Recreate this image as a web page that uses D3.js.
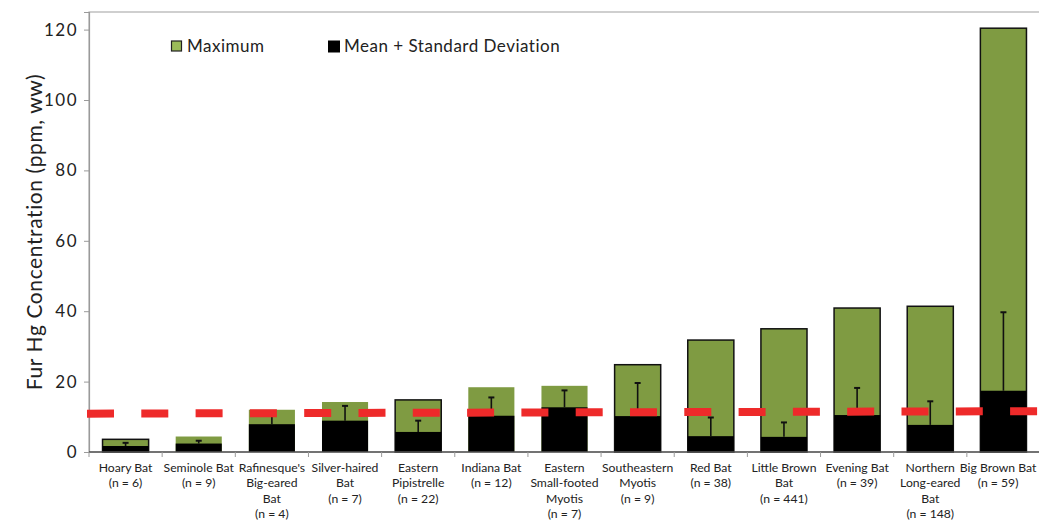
<!DOCTYPE html>
<html>
<head>
<meta charset="utf-8">
<script src="https://cdn.jsdelivr.net/npm/d3@7"></script>
<style>
  html, body { margin: 0; padding: 0; background: #fff; }
  svg { display: block; font-family: Lato, "Open Sans", sans-serif; }
</style>
</head>
<body>
<svg id="chart" width="1039" height="521"></svg>
<script>
// ---- data ----
const categories = ["Hoary Bat", "Seminole Bat", "Rafinesque's Big-eared Bat", "Silver-haired Bat",
  "Eastern Pipistrelle", "Indiana Bat", "Eastern Small-footed Myotis", "Southeastern Myotis",
  "Red Bat", "Little Brown Bat", "Evening Bat", "Northern Long-eared Bat", "Big Brown Bat"];
const labelLines = [
  ["Hoary Bat", "(n = 6)"],
  ["Seminole Bat", "(n = 9)"],
  ["Rafinesque's", "Big-eared", "Bat", "(n = 4)"],
  ["Silver-haired", "Bat", "(n = 7)"],
  ["Eastern", "Pipistrelle", "(n = 22)"],
  ["Indiana Bat", "(n = 12)"],
  ["Eastern", "Small-footed", "Myotis", "(n = 7)"],
  ["Southeastern", "Myotis", "(n = 9)"],
  ["Red Bat", "(n = 38)"],
  ["Little Brown", "Bat", "(n = 441)"],
  ["Evening Bat", "(n = 39)"],
  ["Northern", "Long-eared", "Bat", "(n = 148)"],
  ["Big Brown Bat", "(n = 59)"]
];
const maximum = [3.6, 4.4, 12.0, 14.2, 14.8, 18.4, 18.8, 24.8, 31.8, 35.0, 40.9, 41.4, 120.4];
const mean    = [1.7, 2.4, 7.9, 8.9, 5.7, 10.3, 12.7, 10.2, 4.5, 4.3, 10.5, 7.7, 17.4];
const sd      = [0.9, 0.8, 3.4, 4.2, 3.2, 5.2, 4.8, 9.4, 5.3, 4.1, 7.7, 6.7, 22.3];
const thresholdStart = 10.9;
const thresholdEnd = 11.6;
const yTicks = [0, 20, 40, 60, 80, 100, 120];
const legendLabels = ["Maximum", "Mean + Standard Deviation"];
// style: which maximum bars carry a dark outline
const outlinedMax = [true, false, false, false, true, false, false, true, true, true, true, true, true];

// ---- layout ----
const svg = d3.select("#chart");
const W = 1039;
const pL = 89, pR = 1040, pT = 12, pB = 452;
const green = "#7F9B42";
const axisGray = "#9a9a9a";

const x = d3.scaleBand().domain(categories).range([pL, pR]).padding(0);
const y = d3.scaleLinear().domain([0, 125]).range([pB, pT]);
const bw = x.step() * 0.63;
const cx = c => x(c) + x.bandwidth() / 2;

// plot border
svg.append("rect").attr("x", pL).attr("y", pT).attr("width", pR - pL).attr("height", pB - pT)
  .attr("fill", "none").attr("stroke", "#b0b0b0").attr("stroke-width", 1.2);

// maximum bars
svg.append("g").selectAll("rect").data(categories).join("rect")
  .attr("x", c => cx(c) - bw / 2)
  .attr("y", (c, i) => y(maximum[i]))
  .attr("width", bw)
  .attr("height", (c, i) => y(0) - y(maximum[i]))
  .attr("fill", green)
  .attr("stroke", (c, i) => outlinedMax[i] ? "#111" : "none")
  .attr("stroke-width", 1.5);

// mean bars
svg.append("g").selectAll("rect").data(categories).join("rect")
  .attr("x", c => cx(c) - bw / 2)
  .attr("y", (c, i) => y(mean[i]))
  .attr("width", bw)
  .attr("height", (c, i) => y(0) - y(mean[i]))
  .attr("fill", "#000");

// error bars
const eg = svg.append("g").attr("stroke", "#111").attr("stroke-width", 1.6);
categories.forEach((c, i) => {
  const xc = cx(c);
  eg.append("line").attr("x1", xc).attr("x2", xc).attr("y1", y(mean[i])).attr("y2", y(mean[i] + sd[i]));
  eg.append("line").attr("x1", xc - 3).attr("x2", xc + 3).attr("y1", y(mean[i] + sd[i])).attr("y2", y(mean[i] + sd[i])).attr("stroke-width", 2);
});

// y axis
const yAxis = d3.axisLeft(y).tickValues(yTicks).tickSize(5).tickPadding(6).tickFormat(d3.format("d"));
const ya = svg.append("g").attr("transform", `translate(${pL},0)`).call(yAxis);
ya.select(".domain").attr("stroke", axisGray).attr("stroke-width", 1.2);
ya.selectAll(".tick line").attr("stroke", axisGray);
ya.selectAll(".tick text").attr("font-size", 17).attr("fill", "#222").attr("font-family", "Lato, sans-serif").style("letter-spacing", "1.5px");

// x axis line & ticks at category boundaries
const xg = svg.append("g");
xg.append("line").attr("x1", pL).attr("x2", pR).attr("y1", pB).attr("y2", pB)
  .attr("stroke", "#555").attr("stroke-width", 1.3);
categories.forEach(c => {
  xg.append("line").attr("x1", x(c)).attr("x2", x(c)).attr("y1", pB).attr("y2", pB + 5).attr("stroke", axisGray);
});

// x labels
const lg = svg.append("g").attr("font-size", 12.2).attr("fill", "#222").attr("text-anchor", "middle");
categories.forEach((c, i) => {
  const t = lg.append("text").attr("y", 472);
  labelLines[i].forEach((ln, j) => {
    t.append("tspan").attr("x", cx(c)).attr("dy", j === 0 ? 0 : 15.3).text(ln);
  });
  // keep the label inside the picture
  const bb = t.node().getBBox();
  const over = bb.x + bb.width - (W - 2);
  if (over > 0) t.selectAll("tspan").attr("x", cx(c) - over);
});

// threshold dashed line
svg.append("line")
  .attr("x1", pL - 2).attr("x2", pR)
  .attr("y1", y(thresholdStart)).attr("y2", y(thresholdEnd))
  .attr("stroke", "#EE2A2A").attr("stroke-width", 8)
  .attr("stroke-dasharray", "27,27.3");

// y title
svg.append("text")
  .attr("transform", `translate(42,${(pT + pB) / 2}) rotate(-90)`)
  .attr("text-anchor", "middle")
  .attr("font-size", 21).attr("fill", "#222")
  .style("letter-spacing", "0.6px")
  .text("Fur Hg Concentration (ppm, ww)");

// legend
const leg = svg.append("g").attr("font-size", 17).attr("fill", "#222").style("letter-spacing", "0.5px");
leg.append("rect").attr("x", 171.5).attr("y", 41).attr("width", 10).attr("height", 10)
  .attr("fill", "#9BBB59").attr("stroke", "#222").attr("stroke-width", 1.2);
leg.append("text").attr("x", 187).attr("y", 51.5).text(legendLabels[0]);
leg.append("rect").attr("x", 328).attr("y", 40.5).attr("width", 12).attr("height", 12).attr("fill", "#000");
leg.append("text").attr("x", 344).attr("y", 51.5).text(legendLabels[1]);
</script>
</body>
</html>
